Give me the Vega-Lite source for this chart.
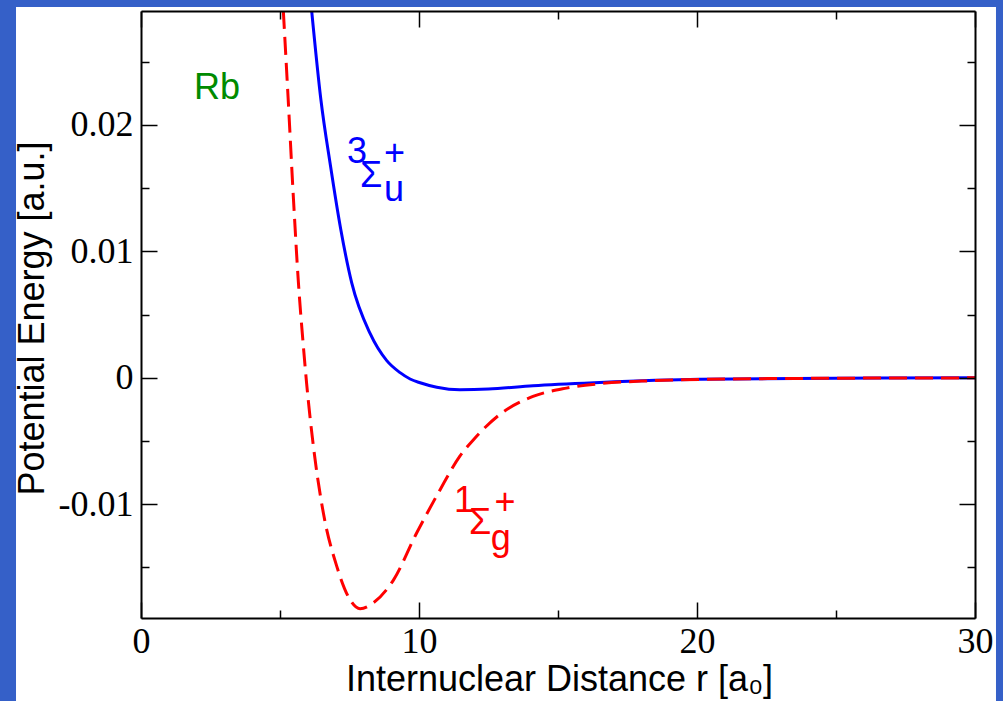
{
  "$schema": "https://vega.github.io/schema/vega-lite/v6.json",
  "width": 834,
  "height": 607,
  "autosize": {"type": "none"},
  "padding": {"left": 141, "top": 11, "right": 28, "bottom": 83},
  "background": "#3560C8",
  "config": {
    "view": {"stroke": null},
    "axis": {
      "grid": false,
      "domainColor": "black",
      "domainWidth": 2,
      "tickColor": "black",
      "tickWidth": 1.5,
      "labelFlush": false,
      "labelOverlap": false,
      "labelColor": "black",
      "labelFont": "Liberation Serif",
      "labelFontSize": 36,
      "titleColor": "black",
      "titleFont": "Liberation Sans",
      "titleFontSize": 36,
      "titleFontWeight": "normal"
    }
  },
  "datasets": {
    "curves": [
      {"state": "triplet", "r": 6.14, "V": 0.0290},
      {"state": "triplet", "r": 6.47, "V": 0.0220},
      {"state": "triplet", "r": 6.82, "V": 0.0167},
      {"state": "triplet", "r": 7.18, "V": 0.0118},
      {"state": "triplet", "r": 7.58, "V": 0.0075},
      {"state": "triplet", "r": 8.24, "V": 0.0035},
      {"state": "triplet", "r": 8.84, "V": 0.00135},
      {"state": "triplet", "r": 9.32, "V": 0.0004},
      {"state": "triplet", "r": 9.68, "V": -0.0001},
      {"state": "triplet", "r": 10.04, "V": -0.0004},
      {"state": "triplet", "r": 10.64, "V": -0.00075},
      {"state": "triplet", "r": 11.47, "V": -0.00095},
      {"state": "triplet", "r": 12.5, "V": -0.0009},
      {"state": "triplet", "r": 14.1, "V": -0.00063},
      {"state": "triplet", "r": 16.5, "V": -0.00037},
      {"state": "triplet", "r": 20.1, "V": -0.00012},
      {"state": "triplet", "r": 25.0, "V": -0.00004},
      {"state": "triplet", "r": 30.0, "V": -0.00001},
      {"state": "singlet", "r": 5.12, "V": 0.0290},
      {"state": "singlet", "r": 5.29, "V": 0.0222},
      {"state": "singlet", "r": 5.48, "V": 0.0143},
      {"state": "singlet", "r": 5.66, "V": 0.0076},
      {"state": "singlet", "r": 5.84, "V": 0.0025},
      {"state": "singlet", "r": 5.96, "V": -0.0005},
      {"state": "singlet", "r": 6.20, "V": -0.0054},
      {"state": "singlet", "r": 6.56, "V": -0.0107},
      {"state": "singlet", "r": 7.04, "V": -0.0149},
      {"state": "singlet", "r": 7.52, "V": -0.01755},
      {"state": "singlet", "r": 7.88, "V": -0.01826},
      {"state": "singlet", "r": 8.36, "V": -0.0178},
      {"state": "singlet", "r": 9.08, "V": -0.0160},
      {"state": "singlet", "r": 9.92, "V": -0.01226},
      {"state": "singlet", "r": 10.76, "V": -0.00885},
      {"state": "singlet", "r": 11.47, "V": -0.0062},
      {"state": "singlet", "r": 12.0, "V": -0.0048},
      {"state": "singlet", "r": 12.91, "V": -0.0029},
      {"state": "singlet", "r": 14.1, "V": -0.00148},
      {"state": "singlet", "r": 15.3, "V": -0.00082},
      {"state": "singlet", "r": 16.5, "V": -0.00047},
      {"state": "singlet", "r": 18.3, "V": -0.00024},
      {"state": "singlet", "r": 20.1, "V": -0.00013},
      {"state": "singlet", "r": 25.0, "V": -0.00004},
      {"state": "singlet", "r": 30.0, "V": -0.00001}
    ],
    "labels": [
      {"state": "element", "role": "element", "text": "Rb", "r": 1.91, "V": 0.02204},
      {"state": "triplet", "role": "sup", "text": "3", "r": 7.41, "V": 0.01698},
      {"state": "triplet", "role": "main", "text": "Σ", "r": 7.88, "V": 0.01505},
      {"state": "triplet", "role": "sup", "text": "+", "r": 8.74, "V": 0.01682},
      {"state": "triplet", "role": "sub", "text": "u", "r": 8.74, "V": 0.01395},
      {"state": "singlet", "role": "sup", "text": "1", "r": 11.26, "V": -0.01062},
      {"state": "singlet", "role": "main", "text": "Σ", "r": 11.80, "V": -0.01235},
      {"state": "singlet", "role": "sup", "text": "+", "r": 12.72, "V": -0.01078},
      {"state": "singlet", "role": "sub", "text": "g", "r": 12.58, "V": -0.01360}
    ]
  },
  "layer": [
    {
      "data": {"values": [{}]},
      "mark": {"type": "rect", "color": "white", "clip": false},
      "encoding": {
        "x": {"datum": -4.496, "type": "quantitative", "scale": {"domain": [0, 30], "nice": false, "zero": false}, "axis": null},
        "x2": {"datum": 30.755},
        "y": {"datum": 0.02931, "type": "quantitative", "scale": {"domain": [-0.019, 0.029], "nice": false, "zero": false}, "axis": null},
        "y2": {"datum": -0.03}
      }
    },
    {
      "data": {"name": "curves"},
      "transform": [{"filter": "datum.state === 'triplet'"}],
      "mark": {"type": "line", "clip": true, "interpolate": "monotone", "strokeWidth": 3, "color": "#0000ff"},
      "encoding": {
        "x": {
          "field": "r", "type": "quantitative",
          "scale": {"domain": [0, 30], "nice": false, "zero": false},
          "axis": {
            "orient": "bottom",
            "zindex": 2,
            "values": [0, 5, 10, 15, 20, 25, 30],
            "format": "d",
            "labelExpr": "datum.value % 10 === 0 ? datum.label : ''",
            "tickSize": {"condition": {"test": "datum.value % 10 === 0", "value": -16}, "value": -8},
            "labelPadding": 22,
            "title": "Internuclear Distance r [a₀]",
            "titleX": 418,
            "titleY": 72,
            "titleBaseline": "alphabetic"
          }
        },
        "y": {
          "field": "V", "type": "quantitative",
          "scale": {"domain": [-0.019, 0.029], "nice": false, "zero": false},
          "axis": {
            "orient": "left",
            "zindex": 2,
            "values": [-0.015, -0.01, -0.005, 0, 0.005, 0.01, 0.015, 0.02, 0.025],
            "labelExpr": "abs(datum.value*100 - round(datum.value*100)) < 1e-6 ? (datum.value === 0 ? '0' : (datum.value < 0 ? '-' : '') + format(abs(datum.value), '.2f')) : ''",
            "tickSize": {"condition": {"test": "abs(datum.value*100 - round(datum.value*100)) < 1e-6", "value": -16}, "value": -8},
            "labelPadding": 24,
            "title": "Potential Energy [a.u.]",
            "titleX": -98,
            "titleY": 307,
            "titleBaseline": "alphabetic",
            "titleAngle": 270
          }
        }
      }
    },
    {
      "data": {"name": "curves"},
      "transform": [{"filter": "datum.state === 'singlet'"}],
      "mark": {"type": "line", "clip": true, "interpolate": "monotone", "strokeWidth": 3, "color": "#ff0000", "strokeDash": [18, 8]},
      "encoding": {
        "x": {"field": "r", "type": "quantitative", "scale": {"domain": [0, 30], "nice": false, "zero": false}, "axis": null},
        "y": {"field": "V", "type": "quantitative", "scale": {"domain": [-0.019, 0.029], "nice": false, "zero": false}, "axis": null}
      }
    },
    {
      "data": {"name": "labels"},
      "mark": {"type": "text", "font": "Liberation Sans", "align": "left", "baseline": "alphabetic"},
      "encoding": {
        "x": {
          "field": "r", "type": "quantitative",
          "scale": {"domain": [0, 30], "nice": false, "zero": false},
          "axis": {
            "orient": "top",
            "zindex": 2,
            "values": [0, 5, 10, 15, 20, 25, 30],
            "labels": false,
            "title": null,
            "tickSize": {"condition": {"test": "datum.value % 10 === 0", "value": -16}, "value": -8}
          }
        },
        "y": {
          "field": "V", "type": "quantitative",
          "scale": {"domain": [-0.019, 0.029], "nice": false, "zero": false},
          "axis": {
            "orient": "right",
            "zindex": 2,
            "values": [-0.015, -0.01, -0.005, 0, 0.005, 0.01, 0.015, 0.02, 0.025],
            "labels": false,
            "title": null,
            "tickSize": {"condition": {"test": "abs(datum.value*100 - round(datum.value*100)) < 1e-6", "value": -16}, "value": -8}
          }
        },
        "text": {"field": "text", "type": "nominal"},
        "color": {
          "field": "state", "type": "nominal",
          "scale": {"domain": ["element", "triplet", "singlet"], "range": ["#008b00", "#0000ff", "#ff0000"]},
          "legend": null
        },
        "size": {
          "field": "role", "type": "ordinal",
          "scale": {"domain": ["element", "main", "sup", "sub"], "range": [36, 36, 24, 28]},
          "legend": null
        }
      }
    }
  ],
  "resolve": {"axis": {"x": "independent", "y": "independent"}}
}
